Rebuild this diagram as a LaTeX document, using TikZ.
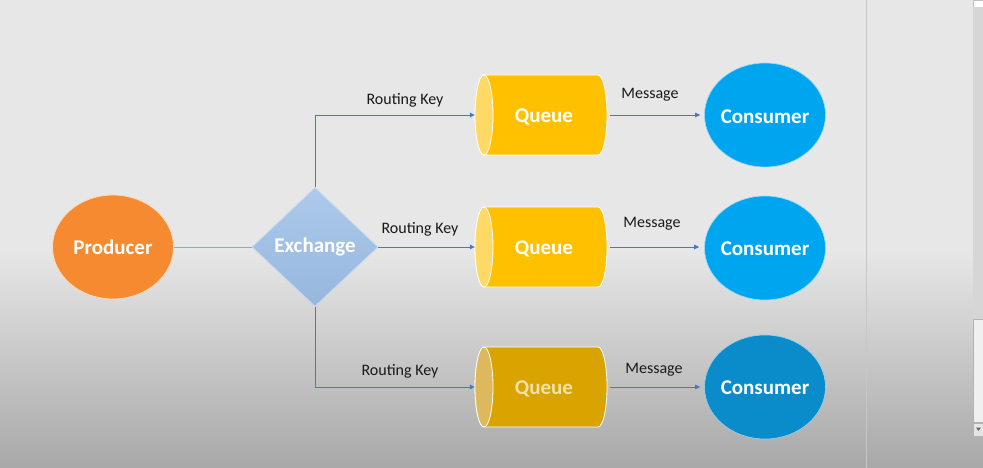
\documentclass[tikz,border=0pt]{standalone}
\usepackage{fontspec}
\setmainfont{Carlito}
\usetikzlibrary{shapes.geometric,arrows.meta}
\definecolor{bgtop}{HTML}{E7E7E7}
\definecolor{bgbot}{HTML}{A8A8A8}
\definecolor{prodc}{HTML}{F58A30}
\definecolor{exc}{HTML}{9EC0E8}
\definecolor{qbody}{HTML}{FFC000}
\definecolor{qcap}{HTML}{FFD966}
\definecolor{qbodyd}{HTML}{D9A300}
\definecolor{qcapd}{HTML}{DDB85C}
\definecolor{qtextd}{HTML}{F2E2A8}
\definecolor{consc}{HTML}{00A5EF}
\definecolor{conscd}{HTML}{0A8CCB}
\definecolor{linec}{HTML}{4A77C4}
\definecolor{glinec}{HTML}{8DA9CC}
\newcommand\drawqueue[4]{% cx, cy, body, cap
  \fill[#3,draw=white,line width=0.8pt] ({#1-57},{#2-40}) -- ({#1+57},{#2-40})
    arc[start angle=270,end angle=450,x radius=9,y radius=40]
    -- ({#1-57},{#2+40})
    arc[start angle=90,end angle=270,x radius=9,y radius=40] -- cycle;
  \fill[#4,draw=white,line width=0.8pt] ({#1-57},#2) ellipse[x radius=9,y radius=40];
}
\tikzset{
  big/.style={font=\fontsize{21}{25}\selectfont\bfseries,text=white},
  lbl/.style={font=\fontsize{16}{19}\selectfont,text=black!90},
  oval/.style={ellipse,minimum width=121pt,minimum height=104pt,inner sep=0pt},
  qbox/.style={rectangle,minimum width=132pt,minimum height=80pt,inner sep=0pt},
  bline/.style={draw=linec,line width=0.8pt,-{Triangle[length=5pt,width=4.5pt]}},
  gline/.style={draw=glinec,line width=1pt},
}
\begin{document}
\begin{tikzpicture}[x=1pt,y=-1pt]
\useasboundingbox (0,0) rectangle (983,468);
% background
\fill[bgtop] (0,0) rectangle (983,250);
\shade[top color=bgtop,bottom color=bgbot] (0,250) rectangle (983,468);
\draw[color=black!22,line width=0.8pt] (866,0) -- (866,468);
% scrollbar
\fill[white,draw=black!25,line width=0.5pt] (973,0) rectangle (983,7);
\fill[black!16] (973,7) rectangle (983,319);
\fill[black!6,draw=black!30,line width=0.5pt] (973.5,319) rectangle (983,422);
\fill[black!10,draw=black!30,line width=0.5pt] (973.5,423) rectangle (983,436);
\fill[black!60] (976,427.5) -- (981,427.5) -- (978.5,431) -- cycle;
% shapes
\node[oval,fill=prodc,draw=prodc!30!white,line width=0.8pt] (prod) at (113,247) {};
\node[big] (prodt) at (113,247) {Producer};
\node[diamond,top color=exc!85!white,bottom color=exc!95!black,draw=exc!60!white,line width=0.8pt,minimum width=126pt,minimum height=119pt,inner sep=0pt,aspect=1.06] (ex) at (315,247) {};
\node[big] (ext) at (315,247) {Exchange};
\drawqueue{541}{115}{qbody}{qcap}
\drawqueue{541}{247}{qbody}{qcap}
\drawqueue{541}{387}{qbodyd}{qcapd}
\node[qbox] (q1) at (541,115) {};
\node[qbox] (q2) at (541,247) {};
\node[qbox] (q3) at (541,387) {};
\node[big] (q1t) at (544,117) {Queue};
\node[big] (q2t) at (544,249) {Queue};
\node[big,text=qtextd] (q3t) at (544,389) {Queue};
\node[oval,fill=consc,draw=consc!40!white,line width=0.6pt] (c1) at (765,115) {};
\node[oval,fill=consc,draw=consc!40!white,line width=0.6pt] (c2) at (765,248) {};
\node[oval,fill=conscd,draw=conscd!40!white,line width=0.6pt] (c3) at (765,387) {};
\node[big] (c1t) at (765,117) {Consumer};
\node[big] (c2t) at (765,249) {Consumer};
\node[big] (c3t) at (765,388) {Consumer};
% connectors
\draw[gline] (prod.east) -- (ex.west);
\draw[bline] (ex.north) |- (q1.west);
\draw[bline] (ex.east) -- (q2.west);
\draw[bline] (ex.south) |- (q3.west);
\draw[bline,shorten <=3pt,shorten >=4pt] (q1.east) -- (c1.west);
\draw[bline,shorten <=3pt,shorten >=5pt] (q2.east) -- (c2.west |- q2.east);
\draw[bline,shorten <=3pt,shorten >=4pt] (q3.east) -- (c3.west);
% labels
\node[lbl] (rk1) at (405,100) {Routing Key};
\node[lbl] (rk2) at (420,229) {Routing Key};
\node[lbl] (rk3) at (400,371) {Routing Key};
\node[lbl] (m1) at (650,95) {Message};
\node[lbl] (m2) at (652,224) {Message};
\node[lbl] (m3) at (654,370) {Message};
\end{tikzpicture}
\end{document}
